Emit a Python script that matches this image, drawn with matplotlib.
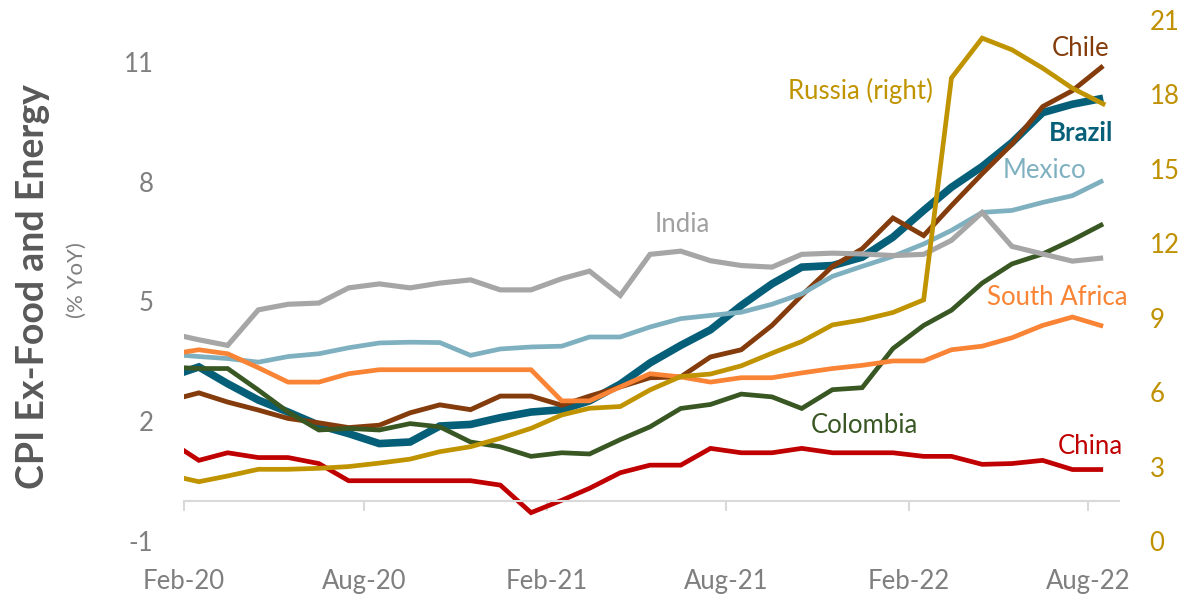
import numpy as np
import pandas as pd
import matplotlib
matplotlib.use("Agg")
import matplotlib.pyplot as plt
import matplotlib.dates as mdates

plt.rcParams["font.family"] = ["Lato", "DejaVu Sans"]
plt.rcParams["axes.unicode_minus"] = False

# monthly core CPI (% YoY), Jan-20 .. Aug-22
months = pd.date_range("2020-01-01", "2022-08-01", freq="MS")

brazil = [3.1, 3.36, 2.94, 2.53, 2.23, 1.9, 1.69, 1.44, 1.48, 1.88, 1.92, 2.09, 2.23, 2.29, 2.51,
          2.93, 3.46, 3.9, 4.29, 4.9, 5.44, 5.86, 5.9, 6.11, 6.61, 7.28, 7.86, 8.38, 8.98, 9.73, 9.94, 10.09]
chile = [2.51, 2.71, 2.48, 2.28, 2.07, 1.96, 1.84, 1.9, 2.21, 2.41, 2.29, 2.63, 2.63, 2.4, 2.63,
         2.86, 3.09, 3.11, 3.61, 3.79, 4.4, 5.15, 5.88, 6.32, 7.09, 6.65, 7.4, 8.2, 8.94, 9.88, 10.28, 10.9]
china = [1.52, 1.02, 1.21, 1.09, 1.09, 0.94, 0.51, 0.51, 0.51, 0.51, 0.51, 0.4, -0.29, 0.02, 0.32,
         0.71, 0.9, 0.9, 1.32, 1.21, 1.21, 1.32, 1.21, 1.21, 1.21, 1.12, 1.12, 0.92, 0.94, 1.02, 0.79, 0.79]
colombia = [3.36, 3.32, 3.32, 2.78, 2.23, 1.78, 1.82, 1.78, 1.94, 1.86, 1.48, 1.36, 1.12, 1.21, 1.18,
            1.54, 1.86, 2.32, 2.42, 2.68, 2.61, 2.32, 2.79, 2.84, 3.82, 4.4, 4.78, 5.46, 5.94, 6.19, 6.54, 6.94]
mexico = [3.68, 3.62, 3.57, 3.48, 3.62, 3.69, 3.84, 3.96, 3.98, 3.97, 3.65, 3.81, 3.86, 3.88, 4.11,
          4.11, 4.36, 4.57, 4.65, 4.73, 4.93, 5.19, 5.63, 5.88, 6.13, 6.44, 6.78, 7.23, 7.28, 7.48, 7.65, 8.03]
india = [4.21, 4.04, 3.9, 4.79, 4.93, 4.96, 5.34, 5.44, 5.34, 5.46, 5.54, 5.29, 5.29, 5.57, 5.76,
         5.15, 6.18, 6.26, 6.02, 5.9, 5.86, 6.18, 6.21, 6.19, 6.15, 6.18, 6.53, 7.23, 6.38, 6.19, 6.01, 6.09]
south_africa = [3.67, 3.79, 3.69, 3.34, 2.98, 2.98, 3.19, 3.29, 3.29, 3.29, 3.29, 3.29, 3.29, 2.51, 2.51,
                2.86, 3.19, 3.11, 2.98, 3.09, 3.09, 3.21, 3.32, 3.4, 3.51, 3.51, 3.79, 3.88, 4.09, 4.4, 4.61, 4.38]
russia = [2.67, 2.39, 2.62, 2.89, 2.89, 2.93, 3.0, 3.14, 3.3, 3.6, 3.8, 4.14, 4.54, 5.08, 5.35,
          5.42, 6.09, 6.63, 6.73, 7.06, 7.57, 8.04, 8.71, 8.91, 9.21, 9.72, 18.66, 20.27, 19.8, 19.06, 18.25, 17.62]

tick_months = pd.date_range("2020-02-01", "2022-08-01", freq="6MS")

series = [
    ("Brazil", brazil, "#065f78", 5.5),
    ("Chile", chile, "#843c0c", 3.5),
    ("China", china, "#c00000", 3.4),
    ("Colombia", colombia, "#385723", 3.4),
    ("Mexico", mexico, "#7fb0c0", 3.4),
    ("India", india, "#a6a6a6", 3.7),
    ("South Africa", south_africa, "#f98435", 3.4),
]

x = mdates.date2num(months + pd.Timedelta(days=15))

fig = plt.figure(figsize=(11.83, 5.98), dpi=100)
ax = fig.add_axes([184 / 1183, 1 - 541 / 598, (1119 - 184) / 1183, (541 - 20) / 598])

for name, vals, color, lw in series:
    ax.plot(x, vals, color=color, lw=lw, solid_joinstyle="miter", solid_capstyle="butt")

ax.set_ylim(-1, 12.05)
ax.set_xlim(mdates.date2num(pd.Timestamp("2020-02-01")), mdates.date2num(pd.Timestamp("2022-09-01")))
ax.set_yticks([-1, 2, 5, 8, 11])
ax.tick_params(axis="y", length=0, labelsize=18.5, labelcolor="#7f7f7f", pad=22)

for s in ["top", "right", "left"]:
    ax.spines[s].set_visible(False)
ax.spines["bottom"].set_position(("data", 0))
ax.spines["bottom"].set_color("#d9d9d9")
ax.spines["bottom"].set_linewidth(1.5)
xt = mdates.date2num(tick_months)
ax.set_xticks(xt)
ax.tick_params(axis="x", length=7.5, width=1.5, color="#d9d9d9", labelbottom=False)

sec = ax.secondary_xaxis("bottom")
sec.set_xticks(xt, [d.strftime("%b-%y") for d in tick_months])
sec.tick_params(length=0, pad=20, labelsize=18.5, labelcolor="#7f7f7f")
sec.spines["bottom"].set_visible(False)

ax2 = ax.twinx()
ax2.plot(x, russia, color="#c09400", lw=3.4, solid_joinstyle="miter")
ax2.set_ylim(0, 21)
ax2.set_yticks(np.arange(0, 22, 3))
ax2.tick_params(axis="y", length=0, labelsize=18.5, labelcolor="#bf9000", pad=22)
for s in ax2.spines.values():
    s.set_visible(False)


def mon(s):
    return mdates.date2num(pd.Timestamp(s))


labels = [
    ("Chile", "2022-07-24", 11.33, "#843c0c", "normal"),
    ("Russia (right)", "2021-12-14", 10.28, "#c09400", "normal"),
    ("Brazil", "2022-07-25", 9.23, "#065f78", "bold"),
    ("Mexico", "2022-06-18", 8.28, "#7fb0c0", "normal"),
    ("India", "2021-06-18", 6.93, "#a0a0a0", "normal"),
    ("South Africa", "2022-07-01", 5.1, "#f98435", "normal"),
    ("Colombia", "2021-12-18", 1.9, "#385723", "normal"),
    ("China", "2022-08-03", 1.375, "#c00000", "normal"),
]
for text, d, yv, color, weight in labels:
    ax.text(mon(d), yv, text, color=color, fontsize=18.5, fontweight=weight,
            ha="center", va="center", zorder=5)

fig.text(33 / 1183, 1 - 287 / 598, "CPI Ex-Food and Energy", rotation=90, fontsize=27,
         fontweight="bold", color="#595959", ha="center", va="center")
fig.text(77 / 1183, 1 - 280 / 598, "(% YoY)", rotation=90, fontsize=16,
         color="#7f7f7f", ha="center", va="center")

fig.savefig("out.png", dpi=100)
